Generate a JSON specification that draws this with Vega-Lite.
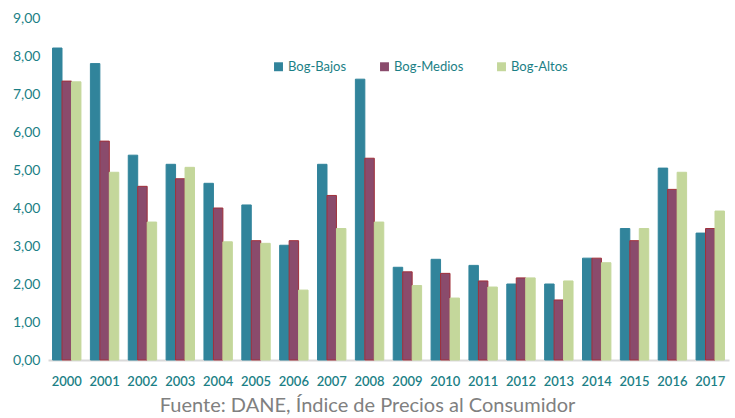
{
  "$schema": "https://vega.github.io/schema/vega-lite/v6.json",
  "width": 681,
  "height": 342,
  "autosize": {"type": "none"},
  "padding": {"left": 48, "top": 18, "right": 6, "bottom": 58},
  "background": "white",
  "config": {
    "font": "Lato",
    "view": {"stroke": null},
    "locale": {"number": {"decimal": ",", "thousands": ".", "grouping": [3], "currency": ["", ""]}}
  },
  "title": {
    "text": "Fuente: DANE, Índice de Precios al Consumidor",
    "orient": "bottom",
    "anchor": "middle",
    "offset": 8,
    "dx": -21,
    "fontSize": 20,
    "fontWeight": "normal",
    "color": "#808080",
    "font": "Lato"
  },
  "data": {
    "values": [
      {"year": "2000", "series": "Bog-Bajos", "value": 8.21},
      {"year": "2000", "series": "Bog-Medios", "value": 7.34},
      {"year": "2000", "series": "Bog-Altos", "value": 7.32},
      {"year": "2001", "series": "Bog-Bajos", "value": 7.80},
      {"year": "2001", "series": "Bog-Medios", "value": 5.76},
      {"year": "2001", "series": "Bog-Altos", "value": 4.94},
      {"year": "2002", "series": "Bog-Bajos", "value": 5.39},
      {"year": "2002", "series": "Bog-Medios", "value": 4.57},
      {"year": "2002", "series": "Bog-Altos", "value": 3.63},
      {"year": "2003", "series": "Bog-Bajos", "value": 5.15},
      {"year": "2003", "series": "Bog-Medios", "value": 4.77},
      {"year": "2003", "series": "Bog-Altos", "value": 5.07},
      {"year": "2004", "series": "Bog-Bajos", "value": 4.65},
      {"year": "2004", "series": "Bog-Medios", "value": 4.00},
      {"year": "2004", "series": "Bog-Altos", "value": 3.11},
      {"year": "2005", "series": "Bog-Bajos", "value": 4.08},
      {"year": "2005", "series": "Bog-Medios", "value": 3.14},
      {"year": "2005", "series": "Bog-Altos", "value": 3.07},
      {"year": "2006", "series": "Bog-Bajos", "value": 3.02},
      {"year": "2006", "series": "Bog-Medios", "value": 3.14},
      {"year": "2006", "series": "Bog-Altos", "value": 1.84},
      {"year": "2007", "series": "Bog-Bajos", "value": 5.15},
      {"year": "2007", "series": "Bog-Medios", "value": 4.33},
      {"year": "2007", "series": "Bog-Altos", "value": 3.46},
      {"year": "2008", "series": "Bog-Bajos", "value": 7.39},
      {"year": "2008", "series": "Bog-Medios", "value": 5.31},
      {"year": "2008", "series": "Bog-Altos", "value": 3.63},
      {"year": "2009", "series": "Bog-Bajos", "value": 2.44},
      {"year": "2009", "series": "Bog-Medios", "value": 2.32},
      {"year": "2009", "series": "Bog-Altos", "value": 1.96},
      {"year": "2010", "series": "Bog-Bajos", "value": 2.65},
      {"year": "2010", "series": "Bog-Medios", "value": 2.28},
      {"year": "2010", "series": "Bog-Altos", "value": 1.63},
      {"year": "2011", "series": "Bog-Bajos", "value": 2.49},
      {"year": "2011", "series": "Bog-Medios", "value": 2.08},
      {"year": "2011", "series": "Bog-Altos", "value": 1.92},
      {"year": "2012", "series": "Bog-Bajos", "value": 2.00},
      {"year": "2012", "series": "Bog-Medios", "value": 2.16},
      {"year": "2012", "series": "Bog-Altos", "value": 2.16},
      {"year": "2013", "series": "Bog-Bajos", "value": 2.00},
      {"year": "2013", "series": "Bog-Medios", "value": 1.58},
      {"year": "2013", "series": "Bog-Altos", "value": 2.08},
      {"year": "2014", "series": "Bog-Bajos", "value": 2.68},
      {"year": "2014", "series": "Bog-Medios", "value": 2.68},
      {"year": "2014", "series": "Bog-Altos", "value": 2.56},
      {"year": "2015", "series": "Bog-Bajos", "value": 3.46},
      {"year": "2015", "series": "Bog-Medios", "value": 3.14},
      {"year": "2015", "series": "Bog-Altos", "value": 3.46},
      {"year": "2016", "series": "Bog-Bajos", "value": 5.05},
      {"year": "2016", "series": "Bog-Medios", "value": 4.49},
      {"year": "2016", "series": "Bog-Altos", "value": 4.94},
      {"year": "2017", "series": "Bog-Bajos", "value": 3.34},
      {"year": "2017", "series": "Bog-Medios", "value": 3.46},
      {"year": "2017", "series": "Bog-Altos", "value": 3.92}
    ]
  },
  "mark": {"type": "bar"},
  "encoding": {
    "x": {
      "field": "year",
      "type": "nominal",
      "scale": {"paddingInner": 0.25, "paddingOuter": 0.12},
      "axis": {
        "title": null,
        "labelAngle": 0,
        "labelColor": "#1B7F86",
        "labelFontSize": 13,
        "labelFontWeight": 600,
        "labelPadding": 15,
        "ticks": false,
        "domainColor": "#D9D9D9",
        "domainWidth": 2
      }
    },
    "xOffset": {"field": "series", "type": "nominal", "sort": ["Bog-Bajos", "Bog-Medios", "Bog-Altos"]},
    "y": {
      "field": "value",
      "type": "quantitative",
      "scale": {"domain": [0, 9]},
      "axis": {
        "title": null,
        "format": ".2f",
        "values": [0, 1, 2, 3, 4, 5, 6, 7, 8, 9],
        "grid": false,
        "domain": false,
        "ticks": false,
        "labelColor": "#1B7F86",
        "labelFontSize": 14,
        "labelPadding": 8
      }
    },
    "color": {
      "field": "series",
      "type": "nominal",
      "sort": ["Bog-Bajos", "Bog-Medios", "Bog-Altos"],
      "scale": {"domain": ["Bog-Bajos", "Bog-Medios", "Bog-Altos"], "range": ["#31849B", "#8A4B6C", "#C4D79B"]},
      "legend": {
        "title": null,
        "orient": "none",
        "legendX": 224,
        "legendY": 42,
        "direction": "horizontal",
        "columnPadding": 31,
        "symbolType": "square",
        "symbolSize": 80,
        "symbolStrokeWidth": 0,
        "labelColor": "#1B7F86",
        "labelFontSize": 13,
        "labelOffset": 3
      }
    },
    "stroke": {
      "field": "series",
      "type": "nominal",
      "scale": {"domain": ["Bog-Bajos", "Bog-Medios", "Bog-Altos"], "range": ["#31849B", "#A0303A", "#C4D79B"]},
      "legend": null
    }
  }
}
